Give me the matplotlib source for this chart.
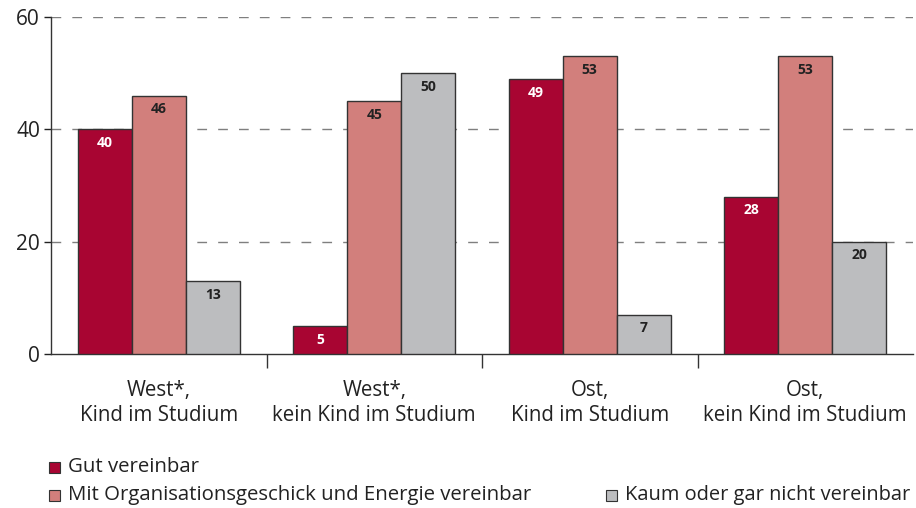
import matplotlib
matplotlib.use("Agg")
import matplotlib.pyplot as plt
from matplotlib.patches import Rectangle
import numpy as np

# ---------------------------------------------------------------------------
# Data
# ---------------------------------------------------------------------------

categories = [
    "West*,\nKind im Studium",
    "West*,\nkein Kind im Studium",
    "Ost,\nKind im Studium",
    "Ost,\nkein Kind im Studium",
]
series_names = [
    "Gut vereinbar",
    "Mit Organisationsgeschick und Energie vereinbar",
    "Kaum oder gar nicht vereinbar",
]
gut = [40, 5, 49, 28]
mit_energie = [46, 45, 53, 53]
kaum = [13, 50, 7, 20]

colors = ["#A80532", "#D27F7C", "#BCBDBF"]
label_colors = ["white", "#222222", "#222222"]

plt.rcParams["font.family"] = ["Open Sans", "DejaVu Sans"]
plt.rcParams["lines.scale_dashes"] = False

fig = plt.figure(figsize=(9.16, 5.08), dpi=100)
ax = fig.add_axes([51 / 916, 1 - 354 / 508, (913 - 51) / 916, (354 - 17) / 508])

x = np.arange(len(categories))
width = 0.25
offsets = [-width, 0, width]

for vals, off, col, lcol in zip([gut, mit_energie, kaum], offsets, colors, label_colors):
    bars = ax.bar(x + off, vals, width, color=col, edgecolor="#333333",
                  linewidth=1.0, zorder=3)
    for bar, v in zip(bars, vals):
        ax.text(bar.get_x() + bar.get_width() / 2, v - 1.2, f"{v}",
                ha="center", va="top", fontsize=10, fontweight="bold",
                color=lcol, zorder=4)

ax.set_xlim(-0.5, 3.5)
ax.set_ylim(0, 60)
ax.set_yticks([0, 20, 40, 60])
ax.tick_params(axis="y", length=5, width=1, pad=3, labelsize=15, colors="#222222")

for yv in [20, 40, 60]:
    ax.axhline(yv, color="#7f7f7f", linewidth=1.0, dashes=(7, 8), zorder=1)

# group separators below the axis
ax.set_xticks([0.5, 1.5, 2.5], minor=True)
ax.set_xticks(x)
ax.set_xticklabels(categories, fontsize=14.8, linespacing=1.25, color="#222222")
ax.tick_params(axis="x", which="major", length=0, pad=19)
ax.tick_params(axis="x", which="minor", length=10, width=1, color="#333333")

for side in ["top", "right"]:
    ax.spines[side].set_visible(False)
for side in ["left", "bottom"]:
    ax.spines[side].set_color("#333333")
    ax.spines[side].set_linewidth(1.0)

# legend, laid out like the original
legend_pos = [(49, 467), (49, 495), (606, 495)]
legend_sizes = [14.7, 14.7, 14.4]
for name, col, (px, py), fs in zip(series_names, colors, legend_pos, legend_sizes):
    sq = 11
    fig.patches.append(Rectangle((px / 916, 1 - (py + sq / 2) / 508), sq / 916, sq / 508,
                                 transform=fig.transFigure, facecolor=col,
                                 edgecolor="#333333", linewidth=0.8))
    fig.text((px + sq + 8) / 916, 1 - py / 508, name, ha="left", va="center",
             fontsize=fs, color="#222222")

fig.savefig("out.png", dpi=100)
